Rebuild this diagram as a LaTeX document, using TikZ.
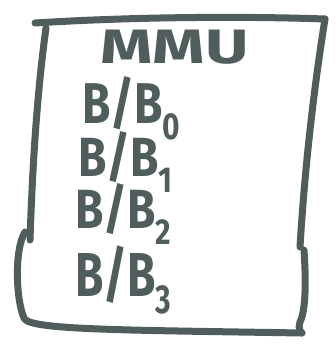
\documentclass[tikz,border=0pt]{standalone}
\usepackage{fontspec}
\setsansfont{Fira Sans}
\definecolor{ink}{HTML}{4F5D5D}
\newcommand{\lowidx}[1]{\raisebox{-0.28em}{\fontsize{30}{30}\selectfont #1}}
\tikzset{
  pen/.style={line width=7pt,ink,line cap=round,line join=round},
  hand/.style={ink,font=\sffamily\bfseries\fontsize{46}{46}\selectfont,inner sep=0pt,anchor=west}
}
\begin{document}
\begin{tikzpicture}[x=1pt,y=-1pt]
\useasboundingbox (0,0) rectangle (336,349);
% box
\draw [pen](35,23) .. controls (130,17) and (240,16) .. (325,19);
\draw [pen](46,28) .. controls (36,100) and (32,180) .. (30,240);
\draw [pen](25,232) .. controls (14,250) and (16,300) .. (24,318)
  .. controls (28,330) and (120,330) .. (302,333);
\draw [pen](325,19) .. controls (312,100) and (304,180) .. (300,247);
\draw [pen](304,250) .. controls (306,280) and (306,310) .. (300,322)
  .. controls (298,330) and (300,332) .. (302,333);
% labels
\node [hand] (mmu) at (100,47) {\scalebox{1.45}[1.05]{MMU}};
\node [hand] (bb0) at (82,108) {\scalebox{1}[1.25]{B/B\lowidx{0}}};
\node [hand] (bb1) at (78,162) {\scalebox{1}[1.2]{B/B\lowidx{1}}};
\node [hand] (bb2) at (75,214) {\scalebox{1}[1.2]{B/B\lowidx{2}}};
\node [hand] (bb3) at (75,280) {\scalebox{1}[1.35]{B/B\lowidx{3}}};
\end{tikzpicture}
\end{document}
